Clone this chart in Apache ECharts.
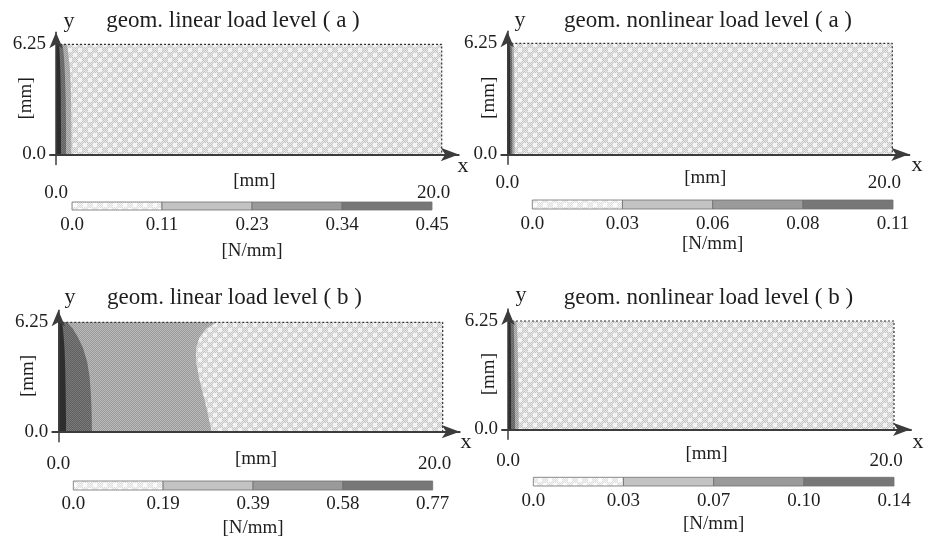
<!DOCTYPE html>
<html>
<head>
<meta charset="utf-8">
<script src="https://cdn.jsdelivr.net/npm/echarts@6/dist/echarts.min.js"></script>
<style>html,body{margin:0;padding:0;background:#fff}#chart{width:938px;height:541px}</style>
</head>
<body>
<div id="chart"></div>
<script>
// ---------------- data ----------------
const titles = ['geom. linear load level ( a )', 'geom. nonlinear load level ( a )', 'geom. linear load level ( b )', 'geom. nonlinear load level ( b )'];
const xTickValues = [0, 20];
const xTickLabels = ['0.0', '20.0'];
const yTickValues = [0, 6.25];
const yTickLabels = ['0.0', '6.25'];
const domainX = [0, 20];
const domainY = [0, 6.25];

// colour-bar tick labels [N/mm]
const legendLinA = ['0.0', '0.11', '0.23', '0.34', '0.45'];
const legendNonA = ['0.0', '0.03', '0.06', '0.08', '0.11'];
const legendLinB = ['0.0', '0.19', '0.39', '0.58', '0.77'];
const legendNonB = ['0.0', '0.03', '0.07', '0.10', '0.14'];

// contour band boundaries: x [mm] of each level line at heights yLevels [mm]
const yLevels = [0, 0.8, 1.6, 2.4, 3.2, 4.0, 4.8, 5.4, 5.9, 6.25];
const linA_lvl1 = [0.80, 0.80, 0.80, 0.79, 0.78, 0.76, 0.72, 0.67, 0.62, 0.55];
const linA_lvl2 = [0.52, 0.52, 0.52, 0.51, 0.50, 0.48, 0.45, 0.42, 0.38, 0.33];
const linA_lvl3 = [0.26, 0.26, 0.26, 0.25, 0.25, 0.24, 0.22, 0.20, 0.18, 0.15];
const nonA_lvl1 = [0.38, 0.38, 0.38, 0.38, 0.37, 0.37, 0.36, 0.35, 0.34, 0.32];
const nonA_lvl2 = [0.26, 0.26, 0.26, 0.26, 0.25, 0.25, 0.25, 0.24, 0.23, 0.22];
const nonA_lvl3 = [0.15, 0.15, 0.15, 0.15, 0.15, 0.14, 0.14, 0.14, 0.13, 0.12];
const linB_lvl1 = [7.98, 7.82, 7.66, 7.47, 7.30, 7.17, 7.17, 7.35, 7.70, 8.24];
const linB_lvl2 = [1.75, 1.74, 1.72, 1.68, 1.62, 1.50, 1.28, 1.02, 0.75, 0.45];
const linB_lvl3 = [0.40, 0.40, 0.39, 0.38, 0.37, 0.35, 0.32, 0.28, 0.24, 0.19];
const nonB_lvl1 = [0.55, 0.55, 0.54, 0.54, 0.53, 0.52, 0.50, 0.48, 0.46, 0.44];
const nonB_lvl2 = [0.36, 0.36, 0.35, 0.35, 0.34, 0.33, 0.32, 0.31, 0.30, 0.28];
const nonB_lvl3 = [0.16, 0.16, 0.16, 0.16, 0.15, 0.15, 0.15, 0.14, 0.14, 0.13];

const panels = [
  { title: titles[0], legend: legendLinA, levels: [linA_lvl1, linA_lvl2, linA_lvl3] },
  { title: titles[1], legend: legendNonA, levels: [nonA_lvl1, nonA_lvl2, nonA_lvl3] },
  { title: titles[2], legend: legendLinB, levels: [linB_lvl1, linB_lvl2, linB_lvl3] },
  { title: titles[3], legend: legendNonB, levels: [nonB_lvl1, nonB_lvl2, nonB_lvl3] }
];

// ---------------- layout & style ----------------
const layout = [
  { x0: 56,    x20: 441.7, y0: 154.5, yT: 44.3, cb: [72, 432, 202, 210],      xl: 19, xn: 7,  yn: 14, cbl: 6, cbn: 32, title: [233, 21],   ylab: [69, 21],  xlab: [463, 166] },
  { x0: 507.3, x20: 892.3, y0: 154.3, yT: 43.3, cb: [532.3, 893, 200, 209],   xl: 9,  xn: 4,  yn: 3,  cbl: 6, cbn: 26, title: [708, 21],   ylab: [520, 20], xlab: [917, 165] },
  { x0: 58.3,  x20: 442.7, y0: 431.7, yT: 322.3, cb: [73.3, 432.7, 481, 490], xl: 13, xn: 8,  yn: 15, cbl: 5, cbn: 29, title: [234.5, 298], ylab: [70, 297], xlab: [466, 442] },
  { x0: 508,   x20: 894,   y0: 429.3, yT: 321, cb: [533.3, 894, 477.3, 486],   xl: 12, xn: 5,  yn: 3,  cbl: 6, cbn: 29, title: [708.5, 298], ylab: [521, 295], xlab: [918, 442] }
];
const FONT = 'Liberation Serif, Times New Roman, serif';
const TXT = '#1e1e1e';
const AXC = '#3c3c3c';
const barColors = [null, '#c3c3c3', '#9a9a9a', '#777777'];

function makePattern(base, dot, light, r) {
  const c = document.createElement('canvas');
  c.width = 10; c.height = 10;
  const ctx = c.getContext('2d');
  const pts = [[0,0],[10,0],[0,10],[10,10],[5,5]];
  for (let i = 0; i < 10; i++) for (let j = 0; j < 10; j++) {
    let d = 99;
    pts.forEach(p => { d = Math.min(d, Math.hypot(i + 0.5 - p[0], j + 0.5 - p[1])); });
    ctx.fillStyle = d < r ? light : ((i + j) % 2 ? dot : base);
    ctx.fillRect(i, j, 1, 1);
  }
  return { image: c, repeat: 'repeat' };
}
const fieldPattern = makePattern('#e8e8e8', '#c6c6c6', '#f3f3f3', 2.3);
const barPattern = makePattern('#f5f5f5', '#dedede', '#fcfcfc', 2.3);
const bandFills = [
  fieldPattern,
  makePattern('#b9b9b9', '#9b9b9b', '#b0b0b0', 0),
  makePattern('#7a7a7a', '#5f5f5f', '#6e6e6e', 0),
  '#2e2e2e'
];

const grids = [], xAxes = [], yAxes = [], series = [], graphics = [];
const labelFont = { color: TXT, fontFamily: FONT, fontSize: 19 };

panels.forEach((pn, p) => {
  const L = layout[p];
  const sx = (L.x20 - L.x0) / 20, sy = (L.y0 - L.yT) / 6.25;
  const left = L.x0 - 6, right = L.x20 + 17, top = L.yT - 12, bottom = L.y0 + 10;
  grids[p] = { left: left, top: top, width: right - left, height: bottom - top, show: false, outerBoundsMode: 'none' };
  xAxes[p] = {
    gridIndex: p, type: 'value', min: -6 / sx, max: 20 + 17 / sx, z: 5,
    axisLine: { onZero: true, symbol: ['none', 'arrow'], symbolSize: [10, 18], lineStyle: { color: AXC, width: 2 } },
    axisTick: { show: false }, splitLine: { show: false },
    axisLabel: Object.assign({ customValues: xTickValues, margin: L.xl,
      rich: { r: Object.assign({ padding: [0, 16, 0, 0] }, labelFont) },
      formatter: v => { const i = xTickValues.indexOf(v); return i < 0 ? '' : (i === xTickValues.length - 1 ? '{r|' + xTickLabels[i] + '}' : xTickLabels[i]); } }, labelFont),
    name: '[mm]', nameLocation: 'middle', nameGap: L.xn, nameMoveOverlap: false,
    nameTextStyle: labelFont
  };
  yAxes[p] = {
    gridIndex: p, type: 'value', min: -10 / sy, max: 6.25 + 12 / sy, z: 5,
    axisLine: { onZero: true, symbol: ['none', 'arrow'], symbolSize: [10, 16], lineStyle: { color: AXC, width: 1.5 } },
    axisTick: { show: false }, splitLine: { show: false },
    axisLabel: Object.assign({ customValues: yTickValues, margin: 4,
      formatter: v => { const i = yTickValues.indexOf(v); return i >= 0 ? yTickLabels[i] : ''; } }, labelFont),
    name: '[mm]', nameLocation: 'middle', nameGap: L.yn, nameRotate: 90, nameMoveOverlap: false,
    nameTextStyle: labelFont
  };
  // contour bands
  series.push({
    type: 'custom', xAxisIndex: p, yAxisIndex: p, silent: true, animation: false, z: 2,
    data: [0, 1, 2, 3],
    renderItem: (params, api) => {
      const k = params.dataIndex;
      let pts;
      if (k === 0) {
        pts = [[domainX[0], domainY[0]], [domainX[1], domainY[0]], [domainX[1], domainY[1]], [domainX[0], domainY[1]]];
      } else {
        const lv = pn.levels[k - 1];
        pts = [];
        yLevels.forEach(y => pts.push([0, y]));
        for (let i = yLevels.length - 1; i >= 0; i--) pts.push([lv[i], yLevels[i]]);
      }
      return { type: 'polygon', shape: { points: pts.map(q => api.coord(q)) },
        style: { fill: bandFills[k], stroke: null } };
    }
  });
  // dotted outline of the plate (top & right edges)
  series.push({
    type: 'line', xAxisIndex: p, yAxisIndex: p, silent: true, animation: false, z: 3,
    symbol: 'none', data: [[domainX[0], domainY[1]], [domainX[1], domainY[1]], [domainX[1], domainY[0]]],
    lineStyle: { color: '#333', width: 1.2, type: [2, 2] }
  });
  // colour bar
  const gi = 4 + p;
  const cb = L.cb;
  grids[gi] = { left: cb[0], top: cb[2], width: cb[1] - cb[0], height: cb[3] - cb[2], show: false, outerBoundsMode: 'none' };
  xAxes[gi] = {
    gridIndex: gi, type: 'value', min: 0, max: 4, interval: 1,
    axisLine: { show: false }, axisTick: { show: false }, splitLine: { show: false },
    axisLabel: Object.assign({ margin: L.cbl, showMinLabel: true, showMaxLabel: true,
      formatter: v => pn.legend[Math.round(v)] }, labelFont),
    name: '[N/mm]', nameLocation: 'middle', nameGap: L.cbn, nameMoveOverlap: false,
    nameTextStyle: labelFont
  };
  yAxes[gi] = { gridIndex: gi, type: 'value', min: 0, max: 1, show: false };
  series.push({
    type: 'custom', xAxisIndex: gi, yAxisIndex: gi, silent: true, animation: false,
    data: [0, 1, 2, 3],
    renderItem: (params, api) => {
      const k = params.dataIndex;
      const a = api.coord([k, 1]), b = api.coord([k + 1, 0]);
      return { type: 'rect', shape: { x: a[0], y: a[1], width: b[0] - a[0], height: b[1] - a[1] },
        style: { fill: k === 0 ? barPattern : barColors[k], stroke: '#707070', lineWidth: 0.8 } };
    }
  });
  // titles and axis letters
  graphics.push({ type: 'text', x: L.title[0], y: L.title[1], style: { text: pn.title, font: '23px ' + FONT, fill: TXT, align: 'center', verticalAlign: 'middle' } });
  graphics.push({ type: 'text', x: L.ylab[0], y: L.ylab[1], style: { text: 'y', font: '22px ' + FONT, fill: TXT, align: 'center', verticalAlign: 'middle' } });
  graphics.push({ type: 'text', x: L.xlab[0], y: L.xlab[1], style: { text: 'x', font: '22px ' + FONT, fill: TXT, align: 'center', verticalAlign: 'middle' } });
});

const chart = echarts.init(document.getElementById('chart'), null, { renderer: 'canvas' });
chart.setOption({
  backgroundColor: '#ffffff',
  animation: false,
  grid: grids, xAxis: xAxes, yAxis: yAxes, series: series,
  graphic: graphics
});
</script>
</body>
</html>
